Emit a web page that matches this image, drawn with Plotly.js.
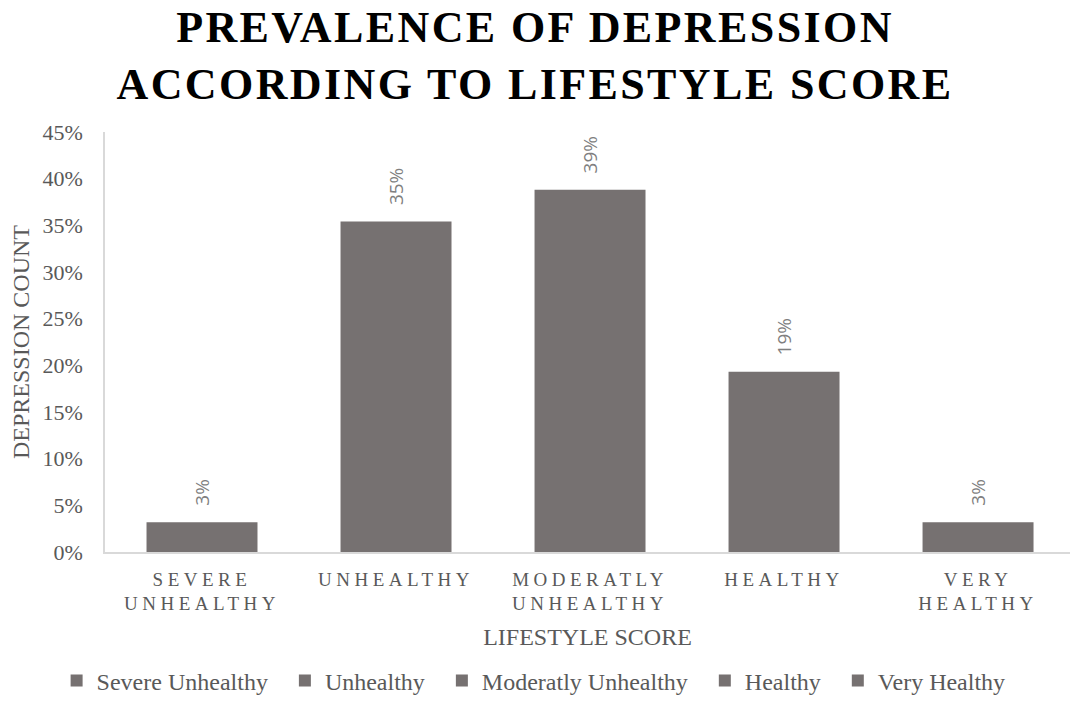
<!DOCTYPE html>
<html>
<head>
<meta charset="utf-8">
<script src="https://cdn.plot.ly/plotly-3.0.1.min.js"></script>
<style>
  html, body { margin: 0; padding: 0; background: #ffffff; }
  #chart { width: 1070px; height: 717px; }
  /* spaced-out capitals for the title and the category labels */
  .gtitle { letter-spacing: 2.4px; }
  .xtick text { letter-spacing: 4.5px; }
</style>
</head>
<body>
<div id="chart"></div>
<script>
// Lifestyle score groups (legend names) and their axis labels
const categories = ['Severe Unhealthy', 'Unhealthy', 'Moderatly Unhealthy', 'Healthy', 'Very Healthy'];
const tickLabels = ['SEVERE<br>UNHEALTHY', 'UNHEALTHY', 'MODERATLY<br>UNHEALTHY', 'HEALTHY', 'VERY<br>HEALTHY'];
// Share of depression cases in each group
const depressionShare = [0.032, 0.354, 0.388, 0.193, 0.032];
const yTicks = [0, 0.05, 0.10, 0.15, 0.20, 0.25, 0.30, 0.35, 0.40, 0.45];

const barColor = '#767171';
const textGray = '#595959';
const serif = '"Liberation Serif", "Times New Roman", serif';
// extra breathing room after each legend entry except the last
const legendPad = '\u00a0\u00a0';

// One trace per group so each gets its own legend entry
const traces = categories.map((name, i) => ({
  type: 'bar',
  name: i < categories.length - 1 ? name + legendPad : name,
  x: [name],
  y: [depressionShare[i]],
  marker: { color: barColor },
  hovertemplate: name + ': %{y:.1%}<extra></extra>'
}));

// Rotated value labels sitting above each bar
const valueLabels = categories.map((name, i) => ({
  x: name,
  y: depressionShare[i],
  xref: 'x',
  yref: 'y',
  text: Math.round(depressionShare[i] * 100) + '%',
  textangle: -90,
  showarrow: false,
  xanchor: 'center',
  yanchor: 'bottom',
  yshift: 14,
  font: { family: '"Open Sans", sans-serif', size: 19, color: '#7f7f7f' }
}));

const layout = {
  width: 1070,
  height: 717,
  paper_bgcolor: '#ffffff',
  plot_bgcolor: '#ffffff',
  margin: { l: 105, r: 0, t: 132, b: 165, autoexpand: false },
  barmode: 'overlay',
  bargap: 0.428,
  showlegend: true,
  title: {
    text: 'PREVALENCE OF DEPRESSION<br>ACCORDING TO LIFESTYLE SCORE',
    font: { family: serif, size: 44, color: '#000000', weight: 'bold' },
    x: 0.5,
    xref: 'container',
    xanchor: 'center',
    y: 1 - 42 / 717,
    yref: 'container',
    yanchor: 'top'
  },
  xaxis: {
    type: 'category',
    categoryorder: 'array',
    categoryarray: categories,
    tickvals: categories,
    ticktext: tickLabels,
    range: [-0.5, 4.474],
    tickangle: 0,
    showline: true,
    linecolor: '#d9d9d9',
    linewidth: 1.5,
    showgrid: false,
    zeroline: false,
    ticks: 'outside',
    ticklen: 9,
    tickcolor: 'rgba(0,0,0,0)',
    tickfont: { family: serif, size: 19, color: textGray },
    title: {
      text: 'LIFESTYLE SCORE',
      font: { family: serif, size: 24, color: textGray },
      standoff: 15
    },
    fixedrange: true
  },
  yaxis: {
    range: [0, 0.45],
    tickvals: yTicks,
    tickformat: '.0%',
    showline: true,
    linecolor: '#d9d9d9',
    linewidth: 1.5,
    showgrid: false,
    zeroline: false,
    ticks: 'outside',
    ticklen: 16,
    tickcolor: 'rgba(0,0,0,0)',
    tickfont: { family: serif, size: 22, color: textGray },
    title: {
      text: 'DEPRESSION COUNT',
      font: { family: serif, size: 24, color: textGray },
      standoff: 6
    },
    fixedrange: true
  },
  legend: {
    orientation: 'h',
    xref: 'container',
    yref: 'container',
    x: 0.4987,
    xanchor: 'center',
    y: 1 - 681 / 717,
    yanchor: 'middle',
    font: { family: serif, size: 24, color: textGray },
    bgcolor: 'rgba(0,0,0,0)'
  },
  annotations: valueLabels
};

Plotly.newPlot('chart', traces, layout, { displayModeBar: false });
</script>
</body>
</html>
